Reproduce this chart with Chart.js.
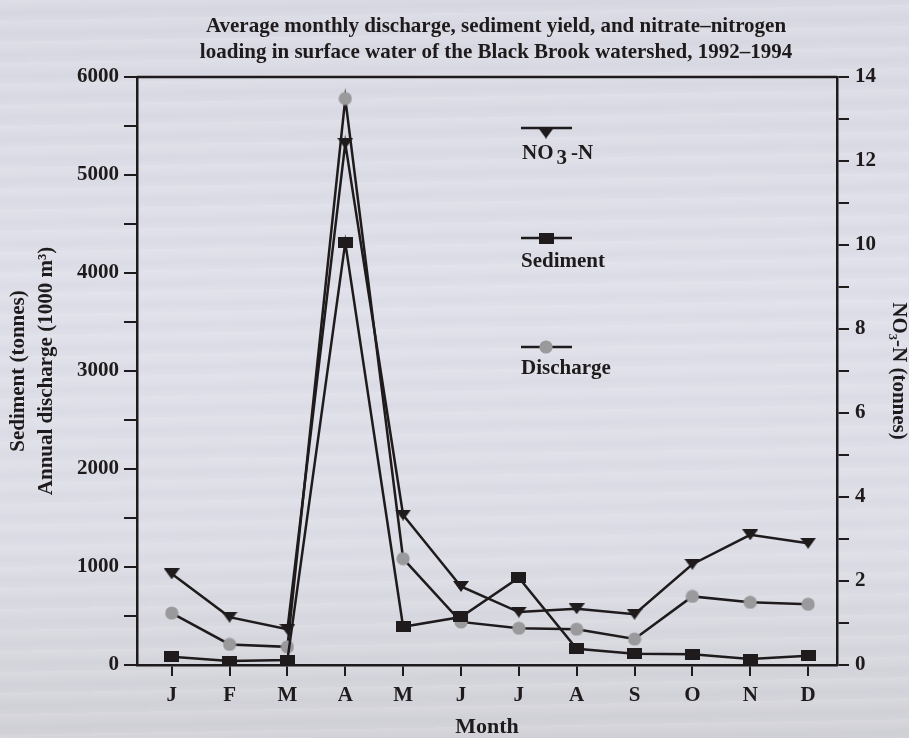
<!DOCTYPE html>
<html lang="en">
<head>
<meta charset="UTF-8" />
<title>Black Brook watershed</title>
<script src="https://cdn.jsdelivr.net/npm/chart.js"></script>
<style>
  html, body { margin: 0; padding: 0; }
  body {
    width: 909px;
    height: 738px;
    overflow: hidden;
    background:
      repeating-linear-gradient(179deg, rgba(255,255,255,0.10) 0px, rgba(255,255,255,0) 7px, rgba(110,115,140,0.035) 13px, rgba(255,255,255,0) 21px),
      linear-gradient(180deg, #d9dae3 0%, #dfe0e9 40%, #dddee6 75%, #d2d2d8 100%);
  }
  #wrap { position: relative; width: 909px; height: 738px; }
</style>
</head>
<body>
<div id="wrap"><canvas id="chart"></canvas></div>
<script>
// data
const months = ["J", "F", "M", "A", "M", "J", "J", "A", "S", "O", "N", "D"];
const discharge = [530, 210, 185, 5780, 1085, 440, 375, 365, 265, 700, 640, 620];
const sediment = [85, 40, 50, 4310, 390, 490, 890, 165, 115, 110, 60, 95];
const nitrate = [2.17, 1.14, 0.85, 12.42, 3.57, 1.87, 1.26, 1.34, 1.21, 2.4, 3.1, 2.9];
const leftLabels = [0, 1000, 2000, 3000, 4000, 5000, 6000];
const rightLabels = [0, 2, 4, 6, 8, 10, 12, 14];

const INK = "#1f1b1c";
const DOT = "#9a9a9c";
const FONT = "'Liberation Serif', 'Times New Roman', serif";

function makeMarker(w, h, draw) {
  const c = document.createElement("canvas");
  c.width = w;
  c.height = h;
  draw(c.getContext("2d"), w, h);
  return c;
}
const squareMark = makeMarker(15, 11, (g, w, h) => {
  g.fillStyle = INK;
  g.fillRect(0, 0, w, h);
});
const triMark = makeMarker(16, 11, (g, w, h) => {
  g.fillStyle = INK;
  g.beginPath();
  g.moveTo(0, 0);
  g.lineTo(w, 0);
  g.lineTo(w / 2, h);
  g.closePath();
  g.fill();
});
const dotMark = makeMarker(14, 14, (g, w, h) => {
  g.fillStyle = DOT;
  g.beginPath();
  g.arc(w / 2, h / 2, 6.6, 0, Math.PI * 2);
  g.fill();
});

const toPoints = (arr) => arr.map((v, i) => ({ x: i + 1, y: v }));

// title, top frame line and the in-plot legend
const decorations = {
  id: "decorations",
  afterDraw(chart) {
    const { ctx, chartArea: a } = chart;
    ctx.save();
    ctx.strokeStyle = INK;
    ctx.lineWidth = 2.5;
    ctx.beginPath();
    ctx.moveTo(a.left, a.top);
    ctx.lineTo(a.right, a.top);
    ctx.stroke();

    ctx.fillStyle = INK;
    ctx.font = "bold 21px " + FONT;
    ctx.textAlign = "center";
    ctx.textBaseline = "alphabetic";
    ctx.fillText("Average monthly discharge, sediment yield, and nitrate\u2013nitrogen", 496, 32);
    ctx.fillText("loading in surface water of the Black Brook watershed, 1992\u20131994", 496, 58);

    // legend
    const lx = a.left + 384;
    const items = [
      { dy: 51, mark: triMark, my: 5 },
      { dy: 161, mark: squareMark, my: 0 },
      { dy: 270, mark: dotMark, my: 0 },
    ];
    items.forEach((it) => {
      const y = a.top + it.dy;
      ctx.lineWidth = 2.5;
      ctx.beginPath();
      ctx.moveTo(lx, y);
      ctx.lineTo(lx + 51, y);
      ctx.stroke();
      ctx.drawImage(it.mark, lx + 25 - it.mark.width / 2, y + it.my - it.mark.height / 2);
    });
    ctx.textAlign = "left";
    ctx.font = "bold 21px " + FONT;
    let tx = lx + 1;
    let ty = a.top + 82;
    ctx.fillText("NO", tx, ty);
    tx += ctx.measureText("NO").width + 3;
    ctx.fillText("3", tx, ty + 5);
    tx += ctx.measureText("3").width + 4;
    ctx.fillText("-N", tx, ty);
    ctx.fillText("Sediment", lx, a.top + 190);
    ctx.fillText("Discharge", lx, a.top + 297);
    ctx.restore();
  },
};

const tickFont = { family: FONT, size: 21, weight: "bold" };

new Chart(document.getElementById("chart"), {
  type: "line",
  data: {
    datasets: [
      {
        label: "Sediment",
        data: toPoints(sediment),
        yAxisID: "y",
        borderColor: INK,
        borderWidth: 2.5,
        pointStyle: squareMark,
        pointRadius: 7,
        tension: 0,
      },
      {
        label: "Discharge",
        data: toPoints(discharge),
        yAxisID: "y",
        borderColor: INK,
        borderWidth: 2.5,
        pointStyle: dotMark,
        pointRadius: 7,
        tension: 0,
      },
      {
        label: "NO3-N",
        data: toPoints(nitrate),
        yAxisID: "y2",
        borderColor: INK,
        borderWidth: 2.5,
        pointStyle: triMark,
        pointRadius: 7,
        tension: 0,
      },
    ],
  },
  options: {
    responsive: true,
    maintainAspectRatio: false,
    animation: false,
    layout: { padding: { top: 77, left: 0, right: 0, bottom: 0 } },
    plugins: {
      legend: { display: false },
      title: { display: false },
      tooltip: { enabled: false },
    },
    scales: {
      x: {
        type: "linear",
        min: 0.4,
        max: 12.5,
        afterBuildTicks: (s) => {
          s.ticks = months.map((m, i) => ({ value: i + 1 }));
        },
        ticks: {
          callback: (v) => months[Math.round(v) - 1],
          font: tickFont,
          color: INK,
          padding: 7,
          autoSkip: false,
          maxRotation: 0,
        },
        grid: { drawOnChartArea: false, tickLength: 11, lineWidth: 2, color: INK },
        border: { display: true, width: 2.5, color: INK },
        title: {
          display: true,
          text: "Month",
          font: { family: FONT, size: 22, weight: "bold", lineHeight: 1 },
          color: INK,
          padding: { top: 0, bottom: 0 },
        },
        afterFit: (s) => { s.height = 73; },
      },
      y: {
        position: "left",
        min: 0,
        max: 6000,
        ticks: {
          stepSize: 500,
          callback: (v) => (leftLabels.includes(v) ? String(v) : ""),
          font: tickFont,
          color: INK,
          padding: 5,
        },
        grid: { drawOnChartArea: false, tickLength: 13, lineWidth: 2, color: INK },
        border: { display: true, width: 2.5, color: INK },
        title: {
          display: true,
          text: ["Sediment (tonnes)", "Annual discharge (1000 m\u00b3)"],
          font: { family: FONT, size: 21, weight: "bold", lineHeight: 1.35 },
          color: INK,
          padding: { top: 4, bottom: 0 },
        },
        afterFit: (s) => { s.width = 137; },
      },
      y2: {
        position: "right",
        min: 0,
        max: 14,
        ticks: {
          stepSize: 1,
          callback: (v) => (rightLabels.includes(v) ? String(v) : ""),
          font: tickFont,
          color: INK,
          padding: 6,
        },
        grid: { drawOnChartArea: false, tickLength: 12, lineWidth: 2, color: INK },
        border: { display: true, width: 2.5, color: INK },
        title: {
          display: true,
          text: "NO\u2083-N (tonnes)",
          font: { family: FONT, size: 21, weight: "bold", lineHeight: 1 },
          color: INK,
          padding: { top: 0, bottom: 0 },
        },
        afterFit: (s) => { s.width = 72; },
      },
    },
  },
  plugins: [decorations],
});
</script>
</body>
</html>
